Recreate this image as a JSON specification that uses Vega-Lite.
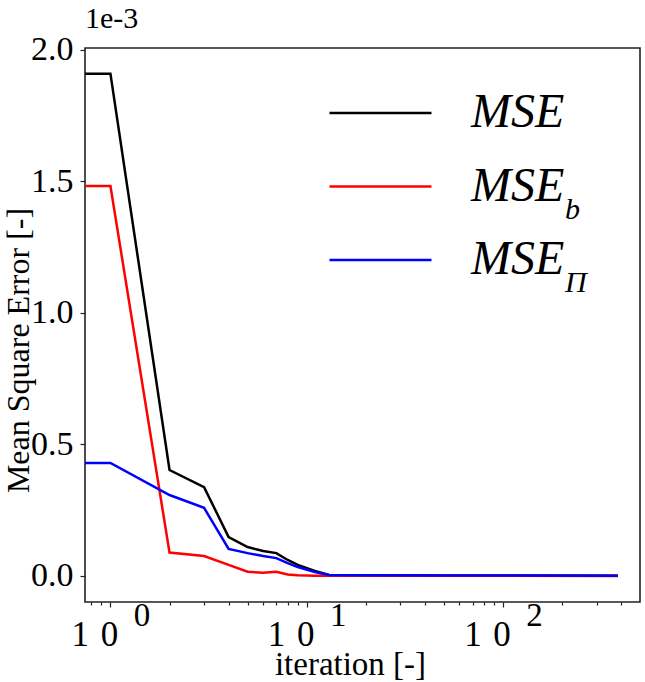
{
  "$schema": "https://vega.github.io/schema/vega-lite/v6.json",
  "width": 555,
  "height": 554,
  "autosize": {"type": "none"},
  "padding": {"left": 85, "top": 48, "right": 5, "bottom": 80},
  "background": "white",
  "config": {
    "font": "Liberation Serif",
    "view": {"stroke": "#222222", "strokeWidth": 1.6},
    "axis": {"grid": false, "domain": false, "tickColor": "#222222", "tickWidth": 1.2, "labelColor": "black", "titleColor": "black", "labelFont": "Liberation Serif", "titleFont": "Liberation Serif", "titleFontWeight": "normal"},
    "legend": {"labelFont": "Liberation Serif"}
  },
  "title": {"text": "1e-3", "anchor": "start", "frame": "group", "fontSize": 30, "fontWeight": "normal", "font": "Liberation Serif", "color": "black", "offset": -1},
  "data": {
    "values": [
      {"iteration": 0.7, "series": "MSE", "sub": "none", "value": 0.00191},
      {"iteration": 1, "series": "MSE", "sub": "none", "value": 0.00191},
      {"iteration": 2, "series": "MSE", "sub": "none", "value": 0.000403},
      {"iteration": 3, "series": "MSE", "sub": "none", "value": 0.000338},
      {"iteration": 4, "series": "MSE", "sub": "none", "value": 0.000148},
      {"iteration": 5, "series": "MSE", "sub": "none", "value": 0.00011},
      {"iteration": 6, "series": "MSE", "sub": "none", "value": 0.000095},
      {"iteration": 7, "series": "MSE", "sub": "none", "value": 0.000087},
      {"iteration": 8, "series": "MSE", "sub": "none", "value": 0.000061},
      {"iteration": 9, "series": "MSE", "sub": "none", "value": 0.000042},
      {"iteration": 11, "series": "MSE", "sub": "none", "value": 0.000019},
      {"iteration": 13, "series": "MSE", "sub": "none", "value": 0.000004},
      {"iteration": 20, "series": "MSE", "sub": "none", "value": 0.000003},
      {"iteration": 50, "series": "MSE", "sub": "none", "value": 0.000002},
      {"iteration": 100, "series": "MSE", "sub": "none", "value": 0.0000015},
      {"iteration": 385, "series": "MSE", "sub": "none", "value": 0.000001},
      {"iteration": 0.7, "series": "MSE_b", "sub": "b", "value": 0.001483},
      {"iteration": 1, "series": "MSE_b", "sub": "b", "value": 0.001483},
      {"iteration": 2, "series": "MSE_b", "sub": "b", "value": 0.000089},
      {"iteration": 3, "series": "MSE_b", "sub": "b", "value": 0.000076},
      {"iteration": 4, "series": "MSE_b", "sub": "b", "value": 0.000042},
      {"iteration": 5, "series": "MSE_b", "sub": "b", "value": 0.000016},
      {"iteration": 6, "series": "MSE_b", "sub": "b", "value": 0.0000125},
      {"iteration": 7, "series": "MSE_b", "sub": "b", "value": 0.000016},
      {"iteration": 8, "series": "MSE_b", "sub": "b", "value": 0.000006},
      {"iteration": 9, "series": "MSE_b", "sub": "b", "value": 0.000003},
      {"iteration": 11, "series": "MSE_b", "sub": "b", "value": 0.000001},
      {"iteration": 13, "series": "MSE_b", "sub": "b", "value": 0.000001},
      {"iteration": 20, "series": "MSE_b", "sub": "b", "value": 0.0000008},
      {"iteration": 50, "series": "MSE_b", "sub": "b", "value": 0.0000006},
      {"iteration": 100, "series": "MSE_b", "sub": "b", "value": 0.0000005},
      {"iteration": 385, "series": "MSE_b", "sub": "b", "value": 0.0000004},
      {"iteration": 0.7, "series": "MSE_Pi", "sub": "Π", "value": 0.00043},
      {"iteration": 1, "series": "MSE_Pi", "sub": "Π", "value": 0.00043},
      {"iteration": 2, "series": "MSE_Pi", "sub": "Π", "value": 0.000308},
      {"iteration": 3, "series": "MSE_Pi", "sub": "Π", "value": 0.000259},
      {"iteration": 4, "series": "MSE_Pi", "sub": "Π", "value": 0.000103},
      {"iteration": 5, "series": "MSE_Pi", "sub": "Π", "value": 0.000087},
      {"iteration": 6, "series": "MSE_Pi", "sub": "Π", "value": 0.000076},
      {"iteration": 7, "series": "MSE_Pi", "sub": "Π", "value": 0.000068},
      {"iteration": 8, "series": "MSE_Pi", "sub": "Π", "value": 0.000049},
      {"iteration": 9, "series": "MSE_Pi", "sub": "Π", "value": 0.000034},
      {"iteration": 11, "series": "MSE_Pi", "sub": "Π", "value": 0.000015},
      {"iteration": 13, "series": "MSE_Pi", "sub": "Π", "value": 0.000004},
      {"iteration": 20, "series": "MSE_Pi", "sub": "Π", "value": 0.000003},
      {"iteration": 50, "series": "MSE_Pi", "sub": "Π", "value": 0.000002},
      {"iteration": 100, "series": "MSE_Pi", "sub": "Π", "value": 0.0000015},
      {"iteration": 385, "series": "MSE_Pi", "sub": "Π", "value": 0.000001}
    ]
  },
  "layer": [
    {
      "mark": {"type": "line", "strokeWidth": 2.5, "clip": true},
      "encoding": {
        "x": {
          "field": "iteration", "type": "quantitative",
          "scale": {"type": "log", "domain": [0.742, 499], "nice": false, "zero": false},
          "axis": {
            "orient": "bottom", "values": [1, 10, 100], "labelExpr": "'1\u20040'",
            "labelFontSize": 35, "labelOffset": -16, "labelBaseline": "alphabetic", "labelPadding": 38,
            "labelFlush": false, "labelOverlap": false, "tickSize": 5,
            "title": "iteration [-]", "titleFontSize": 33, "titleX": 265, "titleY": 72, "titleBaseline": "alphabetic", "titleAnchor": null, "titleAlign": "center"
          }
        },
        "y": {
          "field": "value", "type": "quantitative",
          "scale": {"domain": [-0.0000989, 0.0020076], "nice": false, "zero": false},
          "axis": {
            "values": [0, 0.0005, 0.001, 0.0015, 0.002],
            "labelExpr": "format(datum.value * 1000, '.1f')",
            "labelFontSize": 34, "labelPadding": 7, "tickSize": 5, "labelFlush": false, "labelOverlap": false,
            "title": "Mean Square Error [-]", "titleFontSize": 32, "titleX": -57, "titleY": 302, "titleAngle": 270, "titleBaseline": "alphabetic", "titleAlign": "center"
          }
        },
        "color": {
          "field": "series", "type": "nominal",
          "scale": {"domain": ["MSE", "MSE_b", "MSE_Pi"], "range": ["#000000", "#ff0000", "#0000ff"]},
          "legend": {
            "title": null, "orient": "none", "legendX": 243, "legendY": 41, "padding": 0,
            "symbolType": "stroke", "symbolSize": 10404, "symbolStrokeWidth": 2.5,
            "labelExpr": "'MSE'", "labelFontSize": 48, "labelFontStyle": "italic", "labelOffset": 38,
            "clipHeight": 48, "rowPadding": 25.5, "labelColor": "black", "labelLimit": 400
          }
        }
      }
    },
    {
      "mark": {"type": "point", "opacity": 0, "clip": true},
      "encoding": {
        "x": {
          "field": "iteration", "type": "quantitative",
          "scale": {"type": "log", "domain": [0.742, 499], "nice": false, "zero": false},
          "axis": {
            "orient": "bottom", "values": [1, 10, 100],
            "labelExpr": "datum.value == 1 ? '0' : (datum.value == 10 ? '1' : '2')",
            "labelFontSize": 33, "labelOffset": 31, "labelBaseline": "alphabetic", "labelPadding": 23,
            "labelFlush": false, "labelOverlap": false, "ticks": false, "tickSize": 0, "title": null
          }
        },
        "shape": {
          "field": "sub", "type": "nominal",
          "scale": {"domain": ["none", "b", "Π"], "range": ["circle", "square", "diamond"]},
          "legend": {
            "title": null, "orient": "none", "legendX": 450, "legendY": 64, "padding": 0,
            "symbolSize": 1, "symbolOpacity": 0, "symbolStrokeWidth": 0, "symbolFillColor": "transparent", "symbolStrokeColor": "transparent",
            "labelExpr": "datum.label == 'none' ? '' : datum.label", "labelFontSize": 30, "labelFontStyle": "italic", "labelOffset": 0,
            "clipHeight": 48, "rowPadding": 25.5, "labelColor": "black"
          }
        }
      }
    },
    {
      "mark": {"type": "point", "opacity": 0, "clip": true},
      "encoding": {
        "x": {
          "field": "iteration", "type": "quantitative",
          "scale": {"type": "log", "domain": [0.742, 499], "nice": false, "zero": false},
          "axis": {
            "orient": "bottom", "values": [0.8, 0.9, 2, 3, 4, 5, 6, 7, 8, 9, 20, 30, 40, 50, 60, 70, 80, 90, 200, 300, 400],
            "labels": false, "tickSize": 3, "title": null
          }
        }
      }
    }
  ],
  "resolve": {"axis": {"x": "independent"}}
}
